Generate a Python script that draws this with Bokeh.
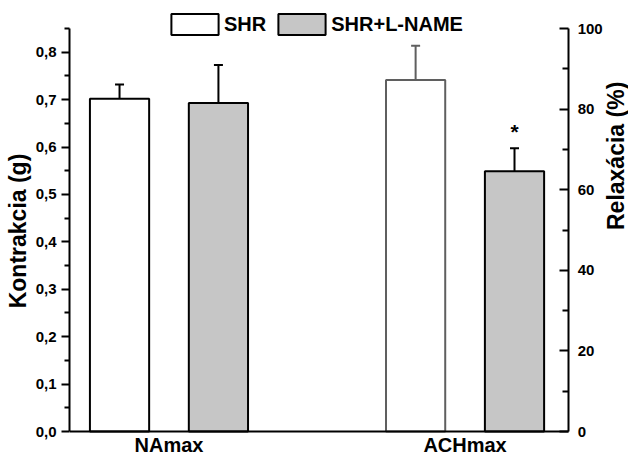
import math
from bokeh.plotting import figure
from bokeh.models import (Range1d, LinearAxis, FixedTicker, CustomJSTickFormatter,
                          ColumnDataSource, Whisker, TeeHead, Legend, LegendItem)
from bokeh.core.properties import value
from bokeh.embed import file_html
from bokeh.resources import INLINE

# ---------------- data ----------------
categories = ["NAmax", "ACHmax"]
category_axis = ["kontrakcia", "relaxacia"]   # NAmax -> left axis (g), ACHmax -> right axis (%)
series_names = ["SHR", "SHR+L-NAME"]
shr_mean = [0.702, 87.2]
shr_err = [0.030, 8.5]
lname_mean = [0.693, 64.6]
lname_err = [0.080, 5.7]
lname_sig = ["", "*"]
left_ticks = [0.0, 0.1, 0.2, 0.3, 0.4, 0.5, 0.6, 0.7, 0.8]
left_minor = [0.05, 0.15, 0.25, 0.35, 0.45, 0.55, 0.65, 0.75, 0.85]
right_ticks = [0, 20, 40, 60, 80, 100]
right_minor = [10, 30, 50, 70, 90]
left_max = 0.85
right_max = 100

# ---------------- style / layout ----------------
FONT = "Liberation Sans"
fills = ["#ffffff", "#c6c6c6"]
outlines = [["#000000", "#5f5f5f"], ["#000000", "#000000"]]  # [series][category]
offsets = [-0.167, 0.167]
bar_width = 0.2
head = 23.0 / 403.0            # free space above the axes' end, for the legend
foot = 25.0 / 403.0            # space below the x axis, for category labels
x_start, x_axis_end, x_end = -0.336, 1.35, 1.552   # right axis drawn at x_axis_end

p = figure(width=628, height=456, output_backend="svg", toolbar_location=None,
           x_range=Range1d(x_start, x_end),
           y_range=Range1d(-left_max * foot, left_max * (1 + head)),
           min_border_left=69, min_border_right=0, min_border_top=5, min_border_bottom=0)
p.extra_y_ranges = {"relax": Range1d(-right_max * foot, right_max * (1 + head))}
p.outline_line_color = None
p.xgrid.visible = False
p.ygrid.visible = False
p.background_fill_color = "white"
p.border_fill_color = "white"

# left axis
ly = p.yaxis[0]
ly.ticker = FixedTicker(ticks=left_ticks, minor_ticks=left_minor)
ly.formatter = CustomJSTickFormatter(code="return tick.toFixed(1).replace('.', ',');")
ly.axis_label = "Kontrakcia (g)"
ly.bounds = (0, left_max)

# right axis
ry = LinearAxis(y_range_name="relax", ticker=FixedTicker(ticks=right_ticks, minor_ticks=right_minor),
                axis_label="Relaxácia (%)", bounds=(0, right_max), fixed_location=x_axis_end)
p.add_layout(ry, "right")

for ax in (ly, ry):
    ax.axis_line_width = 2
    ax.axis_line_color = "black"
    ax.major_tick_line_width = 2
    ax.minor_tick_line_width = 2
    ax.major_tick_line_color = "black"
    ax.minor_tick_line_color = "black"
    ax.major_label_text_font = FONT
    ax.major_label_text_font_size = "15px"
    ax.major_label_text_font_style = "bold"
    ax.major_label_text_color = "black"
    ax.axis_label_text_font = FONT
    ax.axis_label_text_font_size = "23px"
    ax.axis_label_text_font_style = "bold"
    ax.axis_label_text_color = "black"

ly.axis_label_standoff = 2
ly.major_tick_out = 8
ly.major_tick_in = 0
ly.minor_tick_out = 5
ly.minor_tick_in = 0
ly.major_label_standoff = 5

# right ticks point into the plot
ry.axis_label_standoff = 10
ry.major_tick_in = 9
ry.major_tick_out = 0
ry.minor_tick_in = 6
ry.minor_tick_out = 0
ry.major_label_standoff = 9
if "axis_label_orientation" in ry.properties():
    ry.axis_label_orientation = math.pi / 2

# bottom axis (drawn at value 0)
bx = p.xaxis[0]
bx.fixed_location = 0
bx.ticker = FixedTicker(ticks=list(range(len(categories))), minor_ticks=[])
bx.major_label_overrides = {i: c for i, c in enumerate(categories)}
bx.bounds = (x_start, x_axis_end)
bx.major_tick_out = 0
bx.major_tick_in = 0
bx.minor_tick_out = 0
bx.minor_tick_in = 0
bx.axis_line_width = 2
bx.axis_line_color = "black"
bx.major_label_text_font = FONT
bx.major_label_text_font_size = "20px"
bx.major_label_text_font_style = "bold"
bx.major_label_text_color = "black"
bx.major_label_standoff = 2

# bars + error bars
means = [shr_mean, lname_mean]
errs = [shr_err, lname_err]
legend_renderers = [None, None]
for i, cat in enumerate(categories):
    yr = "default" if category_axis[i] == "kontrakcia" else "relax"
    for s in range(len(series_names)):
        m = means[s][i]
        e = errs[s][i]
        src = ColumnDataSource(dict(x=[i + offsets[s]], top=[m], upper=[m + e], lower=[m - e]))
        col = outlines[s][i]
        r = p.vbar(x="x", top="top", bottom=0, width=bar_width, source=src, y_range_name=yr,
                   fill_color=fills[s], line_color=col, line_width=2)
        if legend_renderers[s] is None:
            legend_renderers[s] = r
        w = Whisker(source=src, base="x", upper="upper", lower="lower", dimension="height",
                    y_range_name=yr, line_color=col, line_width=2,
                    upper_head=TeeHead(size=9, line_color=col, line_width=2),
                    lower_head=TeeHead(size=9, line_color=col, line_width=2))
        p.add_layout(w)
        if s == 1 and lname_sig[i]:
            p.text(x=[i + offsets[s]], y=[m + e], text=[lname_sig[i]], y_range_name=yr,
                   text_font=value(FONT), text_font_size="21px", text_font_style="bold",
                   text_align="center", text_baseline="middle", y_offset=-17, text_color="black")

legend = Legend(items=[LegendItem(label=series_names[s], renderers=[legend_renderers[s]])
                       for s in range(len(series_names))],
                orientation="horizontal", location=(96, 419),
                glyph_width=59, glyph_height=26, label_standoff=0, spacing=6,
                padding=0, margin=0, border_line_color=None, background_fill_alpha=0,
                label_text_font=FONT, label_text_font_size="20px", label_text_font_style="bold",
                label_text_color="black")
p.add_layout(legend, "center")

open("out.html", "w").write(file_html(p, INLINE))
